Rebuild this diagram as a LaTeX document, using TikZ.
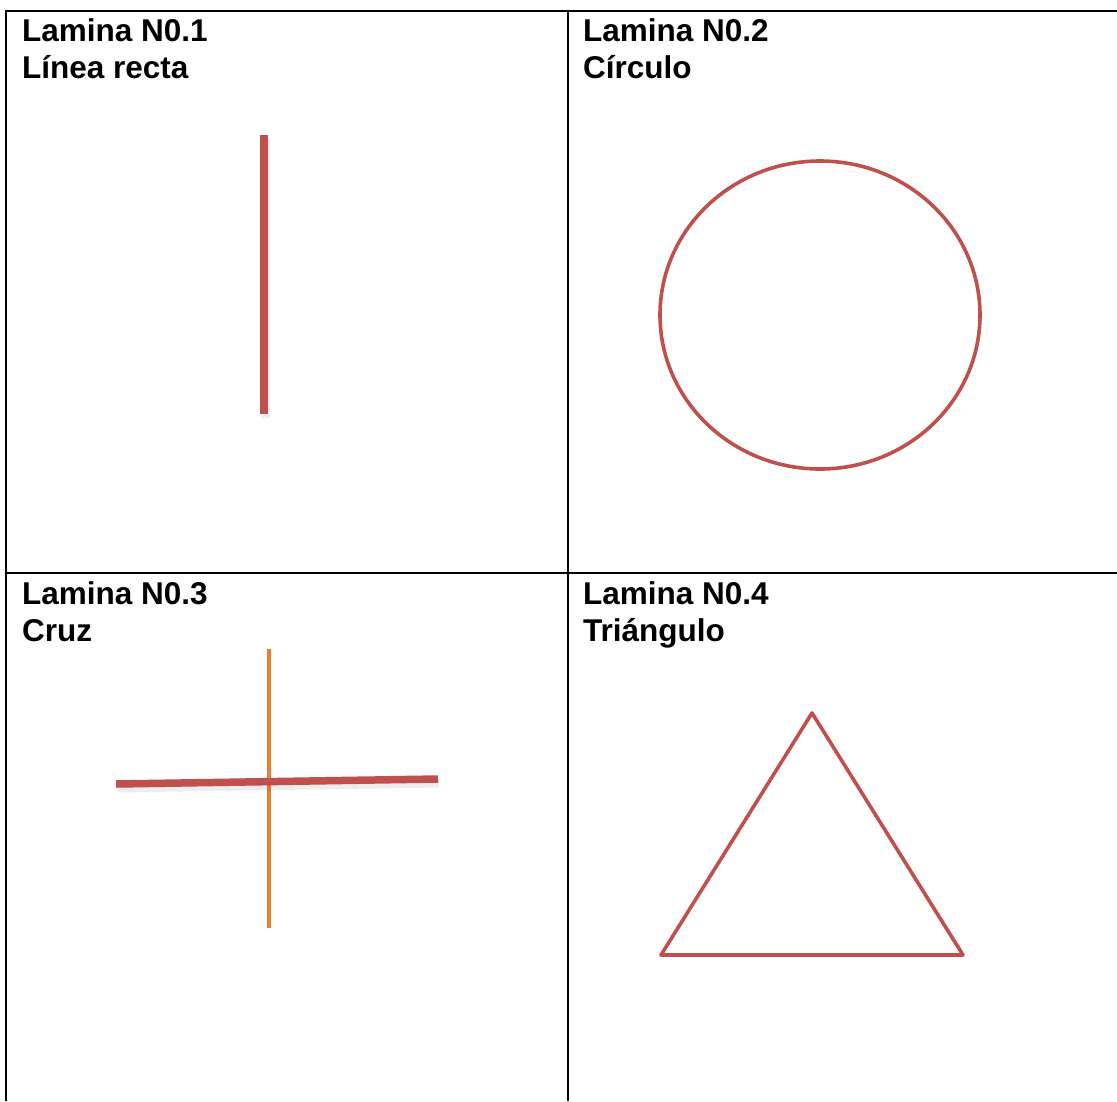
\documentclass[tikz,border=0pt]{standalone}
\usepackage{fontspec}
\setmainfont{Liberation Sans}
\definecolor{redline}{HTML}{C0504D}
\definecolor{orangeline}{HTML}{ED7D31}
\begin{document}
\begin{tikzpicture}[x=1pt,y=-1pt,
  gridline/.style={line width=2.6pt,black},
  cellabel/.style={anchor=base west,inner sep=0pt,font=\fontsize{31.5}{37}\selectfont\bfseries},
  redshape/.style={line width=3.6pt,redline},
  thickred/.style={line width=7.5pt,redline},
  shadeline/.style={line width=9pt,black,opacity=0.07}]
\useasboundingbox[fill=white] (0,0) rectangle (1117,1101);
% table grid
\draw[gridline] (6,1101) -- (6,11) -- (1117,11);
\draw[gridline] (568,11) -- (568,1101);
\draw[gridline] (6,573) -- (1117,573);
% labels
\node[cellabel] (t1) at (22,41) {Lamina N0.1};
\node[cellabel] (s1) at (22,78) {Línea recta};
\node[cellabel] (t2) at (583,41) {Lamina N0.2};
\node[cellabel] (s2) at (583,78) {Círculo};
\node[cellabel] (t3) at (22,604) {Lamina N0.3};
\node[cellabel] (s3) at (22,641) {Cruz};
\node[cellabel] (t4) at (583,604) {Lamina N0.4};
\node[cellabel] (s4) at (583,641) {Triángulo};
% 1: straight line
\coordinate (l1a) at (264,135);
\coordinate (l1b) at (264,414);
\draw[shadeline] ([shift={(1,4)}]l1a) -- ([shift={(1,4)}]l1b);
\draw[thickred] (l1a) -- (l1b);
% 2: circle
\coordinate (c2) at (820,315);
\draw[redshape] (c2) ellipse [x radius=160, y radius=154];
% 3: cross
\coordinate (v3a) at (269,649);
\coordinate (v3b) at (269,928);
\coordinate (h3a) at (116,784);
\coordinate (h3b) at (438,779);
\draw[line width=3.6pt,orangeline] (v3a) -- (v3b);
\draw[shadeline] ([shift={(1,4)}]h3a) -- ([shift={(1,4)}]h3b);
\draw[thickred] (h3a) -- (h3b);
% 4: triangle
\coordinate (p4a) at (812,713);
\coordinate (p4b) at (963,955);
\coordinate (p4c) at (661,955);
\draw[redshape,line join=round] (p4a) -- (p4b) -- (p4c) -- cycle;
\end{tikzpicture}
\end{document}
